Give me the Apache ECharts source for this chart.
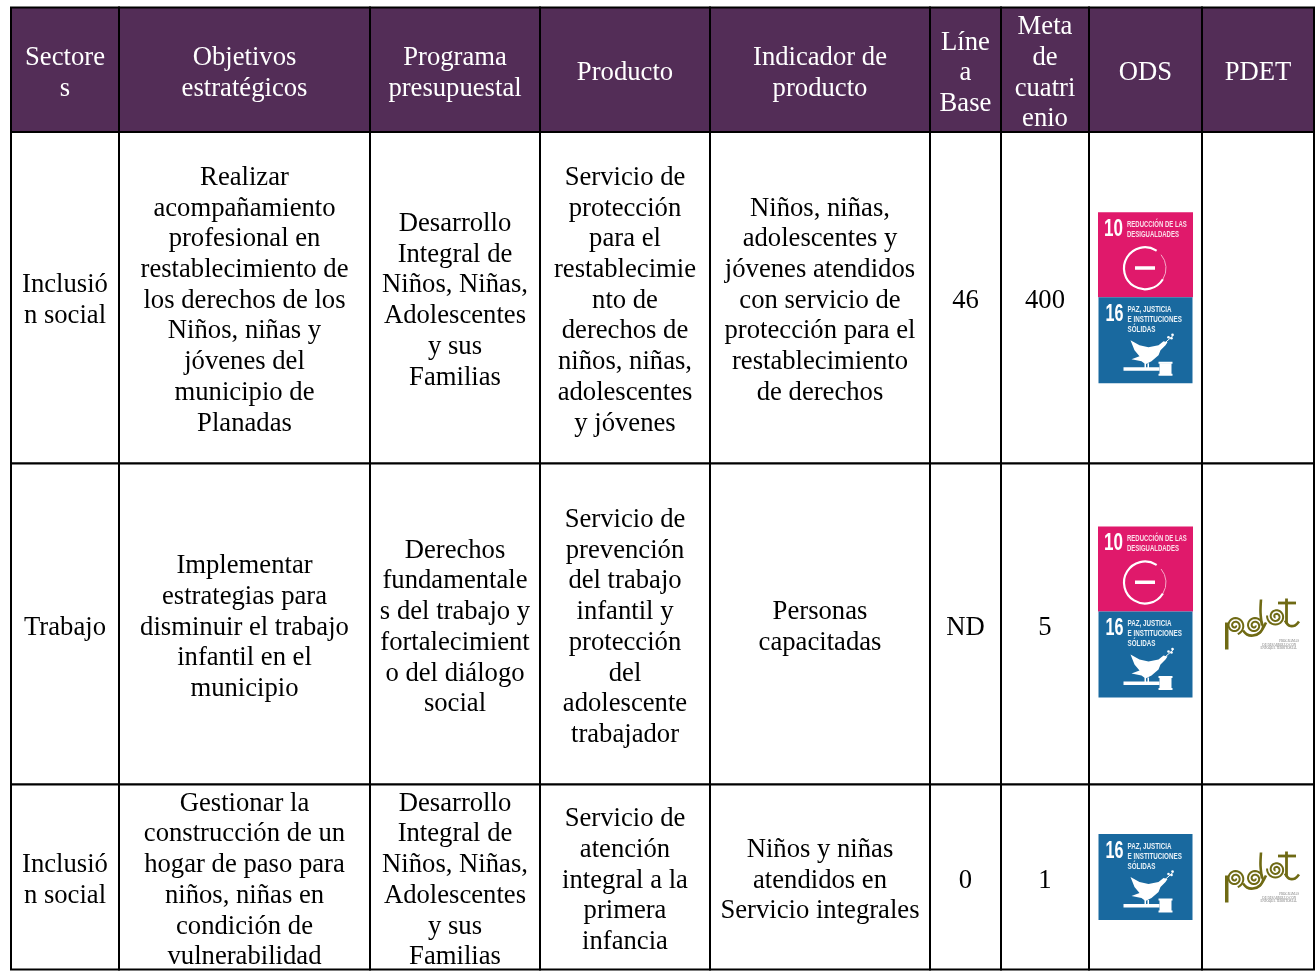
<!DOCTYPE html>
<html>
<head>
<meta charset="utf-8">
<title>Sectores y productos</title>
<style>
html, body { margin: 0; padding: 0; background: #fff; }
#main { width: 1315px; height: 972px; }
</style>
<script src="https://cdn.jsdelivr.net/npm/echarts@6/dist/echarts.min.js"></script>
</head>
<body>
<div id="main"></div>
<script>
// contenido de la tabla
var headers = ['Sectore\ns', 'Objetivos\nestratégicos', 'Programa\npresupuestal', 'Producto', 'Indicador de\nproducto', 'Líne\na\nBase', 'Meta\nde\ncuatri\nenio', 'ODS', 'PDET'];
var sectores = ['Inclusió\nn social', 'Trabajo', 'Inclusió\nn social'];
var objetivos = [
    'Realizar\nacompañamiento\nprofesional en\nrestablecimiento de\nlos derechos de los\nNiños, niñas y\njóvenes del\nmunicipio de\nPlanadas',
    'Implementar\nestrategias para\ndisminuir el trabajo\ninfantil en el\nmunicipio',
    'Gestionar la\nconstrucción de un\nhogar de paso para\nniños, niñas en\ncondición de\nvulnerabilidad'
];
var programas = [
    'Desarrollo\nIntegral de\nNiños, Niñas,\nAdolescentes\ny sus\nFamilias',
    'Derechos\nfundamentale\ns del trabajo y\nfortalecimient\no del diálogo\nsocial',
    'Desarrollo\nIntegral de\nNiños, Niñas,\nAdolescentes\ny sus\nFamilias'
];
var productos = [
    'Servicio de\nprotección\npara el\nrestablecimie\nnto de\nderechos de\nniños, niñas,\nadolescentes\ny jóvenes',
    'Servicio de\nprevención\ndel trabajo\ninfantil y\nprotección\ndel\nadolescente\ntrabajador',
    'Servicio de\natención\nintegral a la\nprimera\ninfancia'
];
var indicadores = [
    'Niños, niñas,\nadolescentes y\njóvenes atendidos\ncon servicio de\nprotección para el\nrestablecimiento\nde derechos',
    'Personas\ncapacitadas',
    'Niños y niñas\natendidos en\nServicio integrales'
];
var lineaBase = ['46', 'ND', '0'];
var metas = ['400', '5', '1'];
var odsIconos = [[10, 16], [10, 16], [16]];
var pdetLogo = [false, true, true];

// geometria de la tabla, en pixeles de la hoja
var bordesX = [11, 119, 370, 540, 710, 930, 1001, 1089, 1202, 1314];
var bordesY = [7.5, 132, 463.5, 784.5, 969.5];
var ajusteTextoY = [3.5, 3, 3.5, 3.5];
var ajusteOdsY = [0, -12, 0];

var columnas = [sectores, objetivos, programas, productos, indicadores, lineaBase, metas];
var celdas = [];
headers.forEach(function (h, c) {
    celdas.push([c, 0, h]);
});
columnas.forEach(function (col, c) {
    col.forEach(function (t, r) {
        celdas.push([c, r + 1, t]);
    });
});
odsIconos.forEach(function (ic, r) {
    celdas.push([7, r + 1, '']);
    celdas.push([8, r + 1, '']);
});

var FUENTE = '"Liberation Serif", "Times New Roman", serif';
var SANS = '"Liberation Sans", Arial, sans-serif';

function rect(x, y, w, h, fill) {
    return { type: 'rect', shape: { x: x, y: y, width: w, height: h }, style: { fill: fill } };
}
// rotulos estrechos de los iconos ODS
function txt(t, x, y, size, fill, escala) {
    return {
        type: 'text', x: x, y: y, scaleX: escala,
        style: { text: t, x: 0, y: 0, fill: fill, font: 'bold ' + size + 'px ' + SANS, align: 'left', verticalAlign: 'top' }
    };
}

function icono10(x, y) {
    var blanco = '#fbdfea';
    return {
        type: 'group', x: x, y: y,
        children: [
            rect(0, 0, 95, 85, '#e0196b'),
            txt('10', 6, 5.5, 23, '#fff', 0.74),
            txt('REDUCCIÓN DE LAS', 29, 7, 9.5, blanco, 0.63),
            txt('DESIGUALDADES', 29, 17, 9.5, blanco, 0.63),
            { type: 'arc', shape: { cx: 47, cy: 56, r: 21, startAngle: -0.7, endAngle: 0.55, clockwise: true }, style: { stroke: '#f5a9c8', lineWidth: 1, fill: null } },
            { type: 'arc', shape: { cx: 47, cy: 56, r: 21, startAngle: 0.55, endAngle: 5.3, clockwise: true }, style: { stroke: '#fff', lineWidth: 2.2, fill: null } },
            rect(37, 54, 20, 3.5, '#fff')
        ]
    };
}

function icono16(x, y) {
    var rotulo = '#e8f1f7';
    return {
        type: 'group', x: x, y: y,
        children: [
            rect(0, 0, 94, 86, '#19699f'),
            txt('16', 7, 6, 23, '#fff', 0.7),
            txt('PAZ, JUSTICIA', 29, 7, 9.5, rotulo, 0.66),
            txt('E INSTITUCIONES', 29, 17, 9.5, rotulo, 0.66),
            txt('SÓLIDAS', 29, 27, 9.5, rotulo, 0.66),
            // paloma
            {
                type: 'polygon',
                shape: { points: [[32, 43], [41, 48], [50, 50], [60, 48], [65, 44], [69, 45], [67, 48], [62, 53], [60, 58], [53, 64], [47, 67], [43, 64], [33, 62], [41, 59], [36, 53]] },
                style: { fill: '#fff' }
            },
            rect(46, 66, 1.5, 5, '#fff'),
            rect(49, 66, 1.5, 5, '#fff'),
            // rama
            { type: 'line', shape: { x1: 66, y1: 46, x2: 75, y2: 38 }, style: { stroke: '#fff', lineWidth: 1 } },
            { type: 'circle', shape: { cx: 70, cy: 40, r: 1.3 }, style: { fill: '#fff' } },
            { type: 'circle', shape: { cx: 73, cy: 41, r: 1.3 }, style: { fill: '#fff' } },
            { type: 'circle', shape: { cx: 74, cy: 37.5, r: 1.3 }, style: { fill: '#fff' } },
            // mazo
            rect(25, 70, 36, 3.5, '#fff'),
            rect(61, 66, 12, 11, '#fff'),
            rect(60, 64.5, 14, 2, '#fff'),
            rect(60, 76.5, 14, 2, '#fff')
        ]
    };
}

function espiral(cx, cy, rMax, vueltas, inicio) {
    var pts = [];
    for (var i = 0; i <= 60; i++) {
        var p = i / 60;
        var a = inicio + p * vueltas * Math.PI * 2;
        var r = 1 + p * (rMax - 1);
        pts.push([cx + r * Math.cos(a), cy + r * Math.sin(a)]);
    }
    return { type: 'polyline', shape: { points: pts }, style: { stroke: '#6f6a14', lineWidth: 2, fill: null } };
}

function logoPdet(x, y) {
    var oliva = '#6f6a14';
    function trazo(pts, w) {
        return { type: 'polyline', shape: { points: pts, smooth: 0.3 }, style: { stroke: oliva, lineWidth: w || 2.6, fill: null } };
    }
    return {
        type: 'group', x: x, y: y,
        children: [
            espiral(10, 27, 9, 2.2, 0),
            espiral(29.5, 27, 9, 2.2, 0),
            espiral(51, 18, 9, 2.2, 2),
            rect(0, 24, 3.5, 27, oliva),
            trazo([[36, 1], [35.5, 14], [37, 27]]),
            trazo([[18, 32], [22, 36], [28, 37], [35, 34], [41, 24]]),
            trazo([[60, 22], [64, 27], [70, 27], [74, 23]]),
            trazo([[61.5, 0], [61.5, 25]], 2.8),
            trazo([[53, 4.5], [71, 4.5]], 2.8),
            { type: 'text', style: { text: 'PROGRAMAS', x: 74, y: 41.5, fill: '#777', font: '3.2px ' + FUENTE, align: 'right' } },
            { type: 'text', style: { text: 'DE DESARROLLO CON', x: 71, y: 45, fill: '#777', font: '3.2px ' + FUENTE, align: 'right' } },
            { type: 'text', style: { text: 'ENFOQUE TERRITORIAL', x: 72, y: 48.5, fill: '#777', font: '3.2px ' + FUENTE, align: 'right' } }
        ]
    };
}

function dibujarCelda(params, api) {
    var c = api.value(0);
    var r = api.value(1);
    var p0 = api.coord([bordesX[c], bordesY[r]]);
    var p1 = api.coord([bordesX[c + 1], bordesY[r + 1]]);
    var cx = (p0[0] + p1[0]) / 2;
    var cy = (p0[1] + p1[1]) / 2;
    var hijos = [{
        type: 'rect',
        shape: { x: p0[0], y: p0[1], width: p1[0] - p0[0], height: p1[1] - p0[1] },
        style: { fill: r === 0 ? '#532d57' : '#fff', stroke: '#000', lineWidth: 2 }
    }];
    var texto = celdas[params.dataIndex][2];
    if (texto) {
        hijos.push({
            type: 'text',
            style: {
                text: texto, x: cx, y: cy + ajusteTextoY[r],
                fill: r === 0 ? '#fff' : '#000',
                font: '26.67px ' + FUENTE,
                lineHeight: 30.7,
                align: 'center', verticalAlign: 'middle'
            }
        });
    }
    if (r > 0 && c === 7) {
        var iconos = odsIconos[r - 1];
        var alto = iconos.length === 2 ? 171 : 86;
        var y0 = cy + ajusteOdsY[r - 1] - alto / 2;
        iconos.forEach(function (n) {
            if (n === 10) {
                hijos.push(icono10(cx - 47.5, y0));
                y0 += 85;
            } else {
                hijos.push(icono16(cx - 47, y0));
                y0 += 86;
            }
        });
    }
    if (r > 0 && c === 8 && pdetLogo[r - 1]) {
        hijos.push(logoPdet(cx - 33, cy - 25.5));
    }
    return { type: 'group', children: hijos };
}

var myChart = echarts.init(document.getElementById('main'));
var option = {
    animation: false,
    backgroundColor: '#fff',
    grid: { left: 0, right: 0, top: 0, bottom: 0 },
    xAxis: { type: 'value', min: 0, max: 1315, show: false },
    yAxis: { type: 'value', min: 0, max: 972, inverse: true, show: false },
    series: [
        {
            type: 'custom',
            coordinateSystem: 'cartesian2d',
            renderItem: dibujarCelda,
            data: celdas.map(function (d) { return [d[0], d[1]]; }),
            encode: { x: 0, y: 1 },
            clip: false,
            silent: true
        }
    ]
};
myChart.setOption(option);
window.addEventListener('resize', function () {
    myChart.resize();
});
</script>
</body>
</html>
